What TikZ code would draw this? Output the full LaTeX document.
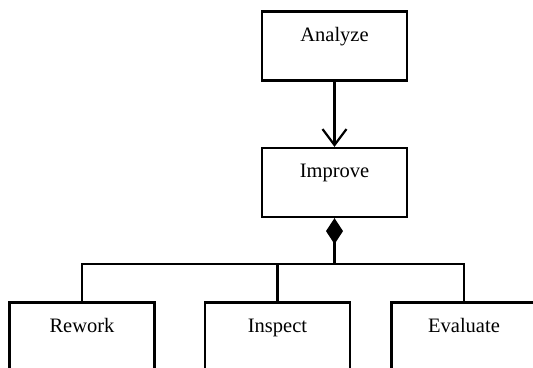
\documentclass[tikz,border=0pt]{standalone}
\usepackage{fontspec}
\setmainfont{Liberation Serif}
\usetikzlibrary{arrows.meta}
\begin{document}
\begin{tikzpicture}[x=1pt,y=-1pt,
  box/.style={draw,line width=2.2pt,minimum width=145pt,minimum height=69pt,inner sep=0pt},
  lbl/.style={anchor=base,yshift=-31pt,font=\fontsize{20.5}{24}\selectfont},
  conn/.style={line width=2.2pt}]
\useasboundingbox (0,0) rectangle (533,367);
\clip (0,0) rectangle (533,367);
\node[box,label={[lbl]north:Analyze}] (an) at (334.5,46) {};
\node[box,label={[lbl]north:Improve}] (im) at (334.5,182.5) {};
\node[box,label={[lbl]north:Rework}] (rw) at (82,337) {};
\node[box,label={[lbl]north:Inspect}] (in) at (277.5,337) {};
\node[box,label={[lbl]north:Evaluate}] (ev) at (464,337) {};
\coordinate (bus) at (im.south |- 0,264);
\draw[conn,-{Straight Barb[length=16pt,width=24pt,line width=2.2pt]}] (an) -- (im);
\draw[conn,{Diamond[length=26pt,width=17pt]}-] (im.south) -- (bus);
\draw[conn] (rw.north) |- (bus) -| (ev.north);
\draw[conn] (in.north) -- (in.north |- bus);
\end{tikzpicture}
\end{document}
